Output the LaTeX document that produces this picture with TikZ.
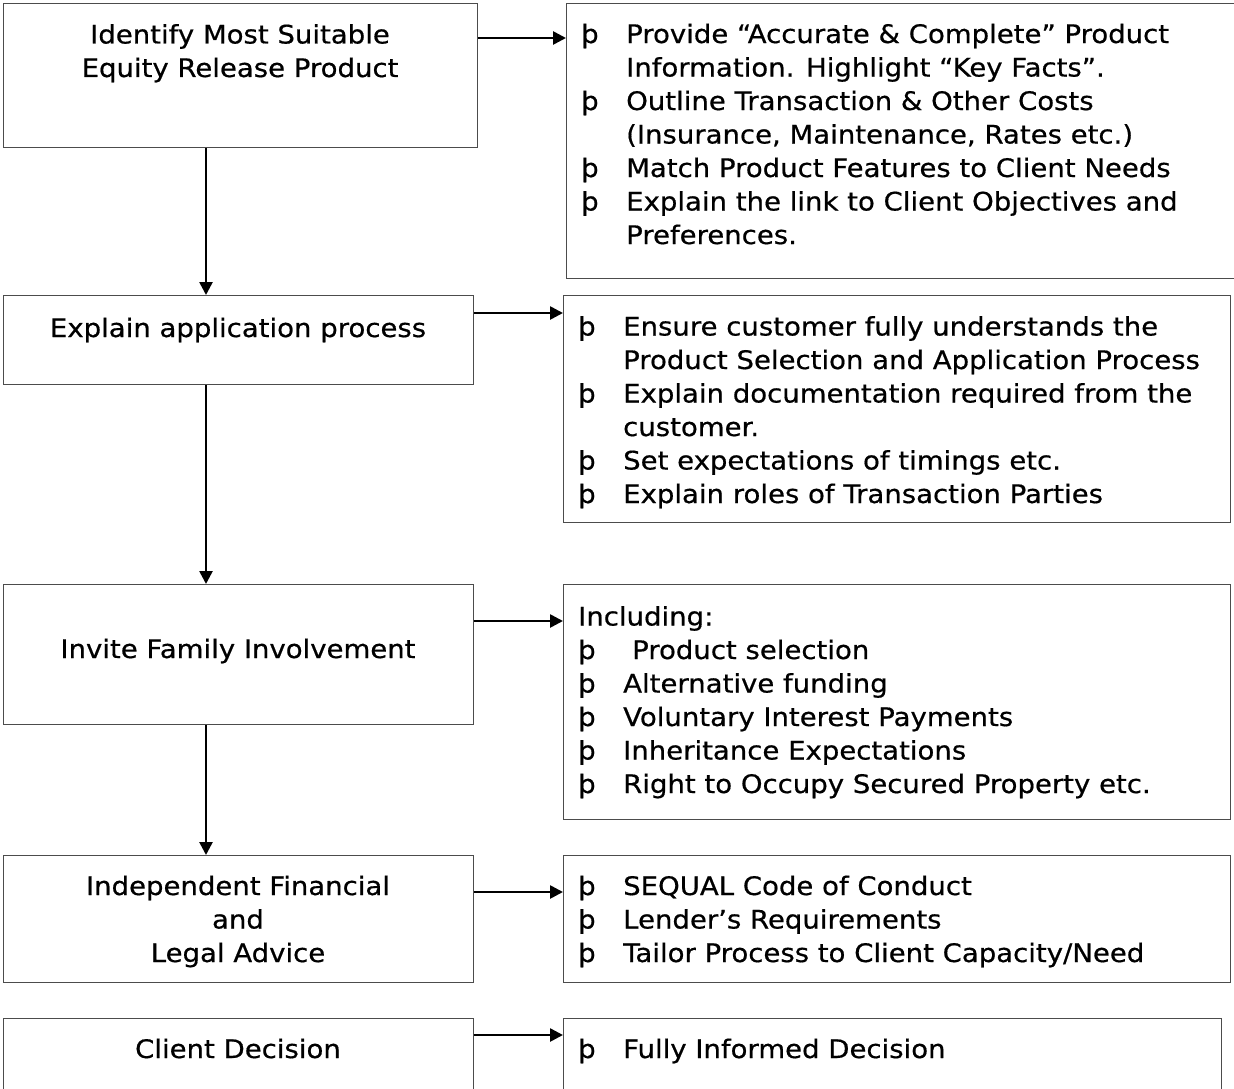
\documentclass[tikz,border=0pt]{standalone}
\usepackage{fontspec}
\setmainfont{DejaVu Sans}[FakeStretch=1.08, FakeBold=0.6]
\usetikzlibrary{arrows.meta}
\newcommand\bul{\makebox[45pt][l]{þ}}
\newcommand\ind{\hspace*{45pt}}

\begin{document}
\begin{tikzpicture}[x=1pt,y=-1pt,
    stepbox/.style={draw=black!70, line width=1.4pt, inner sep=0pt, anchor=north west},
    lbl/.style={font=\fontsize{25.5}{33.5}\selectfont, align=center, anchor=base, inner sep=0pt},
    lst/.style={font=\fontsize{25.5}{33.5}\selectfont, align=left, anchor=base west, inner sep=0pt},
    link/.style={-{Triangle[length=13pt,width=13pt]}, line width=2.6pt}]
      \useasboundingbox (0,0) rectangle (1234,1089);
      \clip (0,0) rectangle (1234,1089);

      \coordinate (Down) at (206, 0);
      \coordinate (Ya) at (0, 38);
      \coordinate (Yb) at (0, 313);
      \coordinate (Yc) at (0, 621);
      \coordinate (Yd) at (0, 892);
      \coordinate (Ye) at (0, 1035);

      % steps on the left
      \node[stepbox, minimum width=474, minimum height=144] (Ident) at (3, 3) {};
      \node[stepbox, minimum width=470, minimum height=89] (Expl) at (3, 295) {};
      \node[stepbox, minimum width=470, minimum height=140] (Fam) at (3, 584) {};
      \node[stepbox, minimum width=470, minimum height=127] (Adv) at (3, 855) {};
      \node[stepbox, minimum width=470, minimum height=100] (Dec) at (3, 1018) {};

      % base of a node is its last line
      \node[lbl] (Identt) at (240, 77) {Identify Most Suitable\\Equity Release Product};
      \node[lbl] (Explt) at (238, 337) {Explain application process};
      \node[lbl] (Famt) at (238, 658) {Invite Family Involvement};
      \node[lbl] (Advt) at (238, 962) {Independent Financial\\and\\Legal Advice};
      \node[lbl] (Dect) at (238, 1058) {Client Decision};

      % notes on the right
      \node[stepbox, minimum width=680, minimum height=275] (Identr) at (566, 3) {};
      \node[stepbox, minimum width=667, minimum height=227] (Explr) at (563, 295) {};
      \node[stepbox, minimum width=667, minimum height=235] (Famr) at (563, 584) {};
      \node[stepbox, minimum width=667, minimum height=127] (Advr) at (563, 855) {};
      \node[stepbox, minimum width=658, minimum height=100] (Decr) at (563, 1018) {};

      \node[lst] (Identl) at (581, 244) {\bul Provide “Accurate \& Complete” Product\\
        \ind Information. Highlight “Key Facts”.\\
        \bul Outline Transaction \& Other Costs\\
        \ind (Insurance, Maintenance, Rates etc.)\\
        \bul Match Product Features to Client Needs\\
        \bul Explain the link to Client Objectives and\\
        \ind Preferences.};
      \node[lst] (Expll) at (578, 503) {\bul Ensure customer fully understands the\\
        \ind Product Selection and Application Process\\
        \bul Explain documentation required from the\\
        \ind customer.\\
        \bul Set expectations of timings etc.\\
        \bul Explain roles of Transaction Parties};
      \node[lst] (Faml) at (578, 793) {Including:\\
        \bul\hspace{9pt}Product selection\\
        \bul Alternative funding\\
        \bul Voluntary Interest Payments\\
        \bul Inheritance Expectations\\
        \bul Right to Occupy Secured Property etc.};
      \node[lst] (Advl) at (578, 962) {\bul SEQUAL Code of Conduct\\
        \bul Lender’s Requirements\\
        \bul Tailor Process to Client Capacity/Need};
      \node[lst] (Decl) at (578, 1058) {\bul Fully Informed Decision};

      \draw[link] (Ident.south -| Down) -- (Expl.north -| Down);
      \draw[link] (Expl.south -| Down) -- (Fam.north -| Down);
      \draw[link] (Fam.south -| Down) -- (Adv.north -| Down);

      \draw[link] (Ident.east |- Ya) -- (Identr.west |- Ya);
      \draw[link] (Expl.east |- Yb) -- (Explr.west |- Yb);
      \draw[link] (Fam.east |- Yc) -- (Famr.west |- Yc);
      \draw[link] (Adv.east |- Yd) -- (Advr.west |- Yd);
      \draw[link] (Dec.east |- Ye) -- (Decr.west |- Ye);
    \end{tikzpicture}
\end{document}
